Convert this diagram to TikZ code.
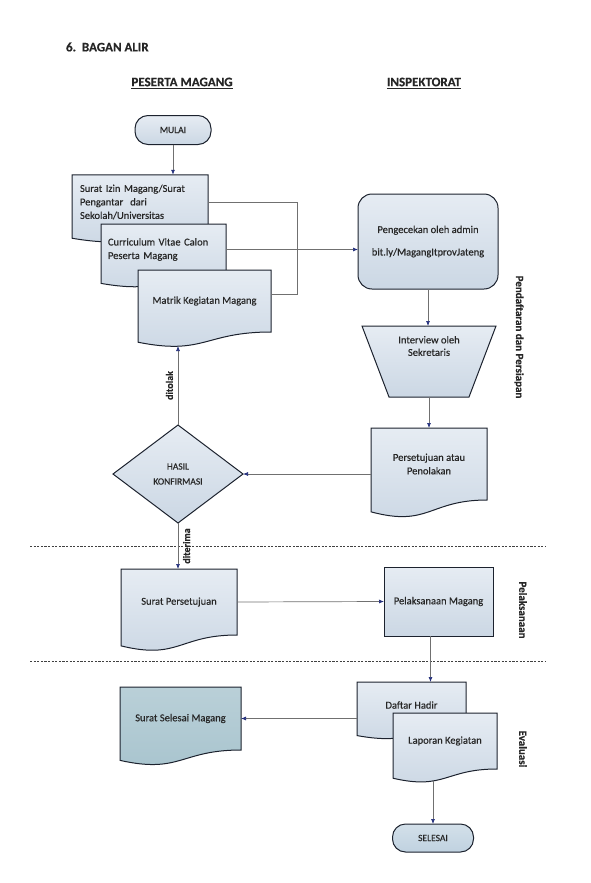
\documentclass[tikz,border=0pt]{standalone}
\usepackage{fontspec}
\setmainfont{Carlito}[UprightFeatures={FakeBold=0.3}, BoldFeatures={FakeBold=0.3}]
\usetikzlibrary{arrows.meta, calc, shapes.geometric, backgrounds}

\definecolor{boxtop}{RGB}{230,236,243}
\definecolor{boxbot}{RGB}{203,215,228}
\definecolor{tealfill}{RGB}{168,196,206}
\definecolor{endfill}{RGB}{192,210,224}
\definecolor{edge}{RGB}{28,34,46}
\definecolor{wire}{RGB}{112,112,112}
\definecolor{tipblue}{RGB}{36,48,124}

\begin{document}
\begin{tikzpicture}[x=1pt, y=-1pt, every node/.style={outer sep=0pt, inner sep=2pt, text=black!85}]
	\tikzstyle{boxtext}=[font=\fontsize{10.5}{13.5}\selectfont]
	\tikzstyle{header}=[font=\bfseries\fontsize{13}{15}\selectfont]
	\tikzstyle{boxshade}=[top color=boxtop, bottom color=boxbot]
	\tikzstyle{tealshade}=[top color=tealfill!80!white, bottom color=tealfill]
	\tikzstyle{terminal}=[
		draw=edge,
		line width=1pt,
		boxshade,
		rounded corners=13pt,
		minimum width=76pt,
		minimum height=29pt,
		font=\fontsize{9.5}{11}\selectfont
	]
	\tikzstyle{process}=[draw=edge, line width=1pt, boxshade, boxtext]
	\tikzstyle{docbox}=[boxtext, align=center]
	\tikzstyle{docline}=[draw=edge, line width=1pt]
	\tikzstyle{wireline}=[draw=wire, line width=0.7pt]
	\tikzstyle{flow}=[wireline, -{Latex[color=tipblue, length=5pt, width=4pt]}]
	\tikzstyle{phase}=[font=\bfseries\fontsize{11}{12}\selectfont, rotate=-90]
	\tikzstyle{choice}=[font=\bfseries\fontsize{10}{12}\selectfont, rotate=90, inner sep=5pt]
	\tikzstyle{phaseline}=[draw=black!75, line width=0.8pt, dash pattern=on 2.2pt off 1.4pt]

	\useasboundingbox (0,0) rectangle (590,883);

	% judul
	\node (judul) at (64,47) [header, anchor=west] {6.\ \ BAGAN ALIR};
	\node (kolpeserta) at (182,83) [header] {\underline{PESERTA MAGANG}};
	\node (kolinsp) at (424,83) [header] {\underline{INSPEKTORAT}};

	% peserta magang
	\node (mulai) at (173,130) [terminal] {MULAI};
	\node (izin) at (140,202) [docbox, minimum width=136pt, minimum height=54.5pt, text width=120pt, align=left]
		{Surat Izin Magang/Surat\\Pengantar\ \ dari\\Sekolah/Universitas};
	\node (cv) at (163.5,249.5) [docbox, minimum width=125pt, minimum height=51pt, text width=111pt, align=left]
		{Curriculum Vitae Calon\\Peserta Magang};
	\node (matrik) at (204.5,301) [docbox, minimum width=133pt, minimum height=62pt] {Matrik Kegiatan Magang};
	\node (hasil) at (178,474) [diamond, draw=edge, line width=1pt, boxshade, minimum width=130pt, minimum height=98pt,
		inner sep=0pt, align=center, font=\fontsize{9.5}{15}\selectfont] {HASIL\\KONFIRMASI};
	\node (srtsetuju) at (179,602) [docbox, minimum width=116pt, minimum height=66pt] {Surat Persetujuan};
	\node (srtselesai) at (180.5,718.5) [docbox, minimum width=121pt, minimum height=63pt] {Surat Selesai Magang};

	% inspektorat
	\node (cek) at (428,241.5) [process, rounded corners=14pt, minimum width=140pt, minimum height=95pt, align=center]
		{Pengecekan oleh admin\\[9pt]bit.ly/MagangItprovJateng};
	\node (interview) at (429,346) [docbox, minimum width=134pt, minimum height=40pt, font=\fontsize{10.5}{12.5}\selectfont]
		{Interview oleh\\Sekretaris};
	\coordinate (interviewbot) at ($(interview.north)+(0,71)$);
	\node (setuju) at (429,464) [docbox, minimum width=116pt, minimum height=72pt] {Persetujuan atau\\Penolakan};
	\node (pelaks) at (438.5,601.5) [process, minimum width=109pt, minimum height=69pt] {Pelaksanaan Magang};
	\node (hadir) at (411.5,705) [docbox, minimum width=109pt, minimum height=46pt] {Daftar Hadir};
	\node (laporan) at (445,741) [docbox, minimum width=104pt, minimum height=56pt] {Laporan Kegiatan};
	\node (selesai) at (433,838) [terminal, minimum width=81pt, minimum height=28pt, top color=endfill!70!white, bottom color=endfill] {SELESAI};

	% tahapan
	\node (tahap1) at (519,337) [phase] {Pendaftaran dan Persiapan};
	\node (tahap2) at (523,610) [phase] {Pelaksanaan};
	\node (tahap3) at (523,749) [phase] {Evaluasi};

	\draw [phaseline] (30,546) -- (545,546);
	\draw [phaseline] (30,661) -- (545,661);

	% bentuk dokumen
	\begin{scope}[on background layer]
		\foreach \nm/\shd in {izin/boxshade, cv/boxshade, matrik/boxshade, setuju/boxshade, srtsetuju/boxshade,
				srtselesai/tealshade, hadir/boxshade, laporan/boxshade}
			\draw [docline, \shd] (\nm.north west) -- (\nm.north east) -- (\nm.south east)
				.. controls (\nm.south) and ($(\nm.north)!1.38!(\nm.south)$) .. ($(\nm.north west)!1.1646!(\nm.south west)$)
				-- cycle;
		\draw [docline, boxshade] (interview.north west) -- (interview.north east)
			-- ($(interview.north east)+(-27,71)$) -- ($(interview.north west)+(27,71)$) -- cycle;
	\end{scope}

	% alur
	\draw [flow] (mulai.south) -- (mulai.south |- izin.north);
	\draw [wireline] (izin.east) -- ++(89,0) |- ($(matrik.east)+(0,-7)$);
	\draw [flow] (cv.east) -- (cv.east -| cek.west);
	\draw [flow] (cek.south) -- (cek.south |- interview.north);
	\draw [flow] (interviewbot) -- (interviewbot |- setuju.north);
	\draw [flow] (setuju.west |- hasil.east) -- (hasil.east);
	\draw [flow] (hasil.north) -- ($(hasil.north |- matrik.south)+(0,14)$)
		node[midway, anchor=south, choice] {ditolak};
	\draw [flow] (hasil.south) -- (hasil.south |- srtsetuju.north)
		node[midway, anchor=north, choice] {diterima};
	\draw [flow] (srtsetuju.east) -- (pelaks.west);
	\coordinate (turun) at ($(pelaks.south)+(-8,0)$);
	\draw [flow] (turun) -- (turun |- hadir.north);
	\draw [flow] (hadir.west |- srtselesai.east) -- (srtselesai.east);
	\draw [flow] ($(selesai.north |- laporan.south)+(0,12)$) -- (selesai.north);
\end{tikzpicture}
\end{document}
